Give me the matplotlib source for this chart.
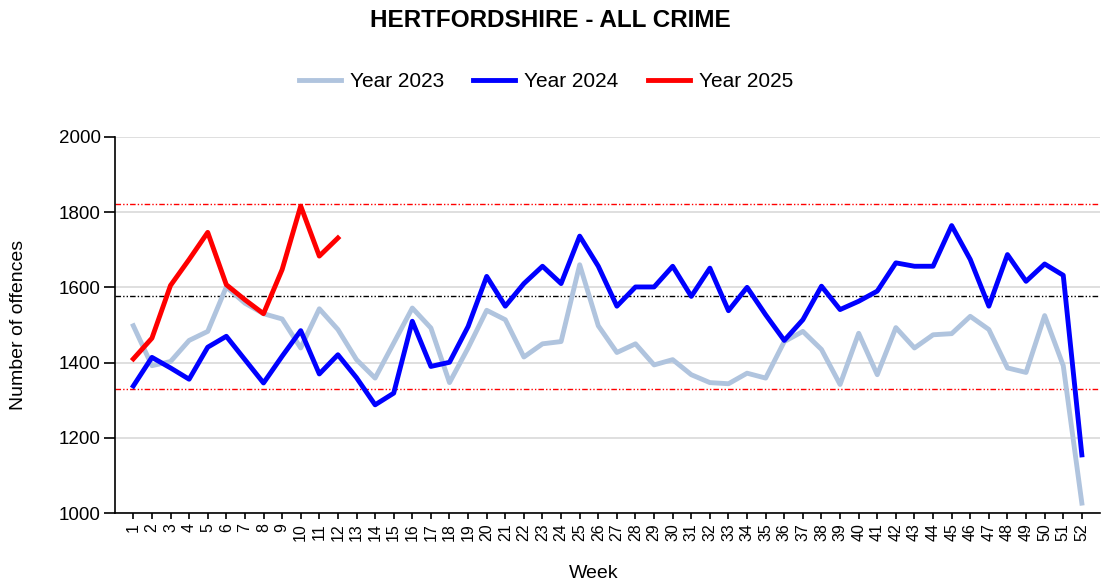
import matplotlib
matplotlib.use("Agg")
import matplotlib.pyplot as plt
import numpy as np

plt.rcParams['font.family'] = ['Liberation Sans', 'DejaVu Sans']

weeks = list(range(1, 53))
year_2023 = [1498, 1392, 1403, 1459, 1483, 1601, 1558, 1530, 1516, 1439, 1543, 1488, 1408,
             1359, 1452, 1545, 1492, 1347, 1439, 1539, 1514, 1415, 1450, 1456, 1660, 1498,
             1427, 1450, 1394, 1408, 1368, 1347, 1344, 1372, 1359, 1456, 1483, 1435, 1342,
             1478, 1368, 1493, 1439, 1474, 1477, 1523, 1488, 1386, 1374, 1525, 1392, 1027]
year_2024 = [1338, 1414, 1386, 1356, 1441, 1470, 1408, 1346, 1417, 1485, 1370, 1421, 1360,
             1288, 1319, 1510, 1390, 1401, 1496, 1629, 1550, 1610, 1656, 1610, 1736, 1656,
             1550, 1601, 1601, 1656, 1576, 1651, 1538, 1600, 1527, 1459, 1514, 1603, 1541,
             1563, 1590, 1665, 1656, 1656, 1764, 1674, 1550, 1687, 1616, 1662, 1632, 1155]
year_2025 = [1410, 1465, 1605, 1674, 1746, 1607, 1567, 1530, 1647, 1816, 1683, 1731]

upper_limit = 1820
mean_line = 1576
lower_limit = 1331

fig = plt.figure(figsize=(11.01, 5.85), dpi=100)
ax = fig.add_axes([0.1042, 0.1226, 0.8953, 0.6437])

lw = 3.5
ax.plot(weeks, year_2023, color='#B0C4DE', lw=lw, label='Year 2023')
ax.plot(weeks, year_2024, color='#0000FF', lw=lw, label='Year 2024')
ax.plot(weeks[:len(year_2025)], year_2025, color='#FF0000', lw=lw, label='Year 2025')

dash = (0, (4, 1.5, 1, 1.5, 1, 1.5))
ax.axhline(upper_limit, color='#FF0000', lw=1.0, ls=dash, zorder=1)
ax.axhline(mean_line, color='black', lw=1.0, ls=dash, zorder=1)
ax.axhline(lower_limit, color='#FF0000', lw=1.0, ls=dash, zorder=1)

ax.set_xlim(0, 53)
ax.set_ylim(1000, 2000)
ax.set_yticks(np.arange(1000, 2001, 200))
ax.set_xticks(weeks)
ax.set_xticklabels([str(w) for w in weeks], rotation=90, fontsize=11.5)
ax.tick_params(axis='y', labelsize=13.5, length=8, width=1.2, colors='black', pad=2)
ax.tick_params(axis='x', length=4, width=1.2, pad=3)
ax.grid(axis='y', color='#D9D9D9', lw=1.2, zorder=0)
ax.set_axisbelow(True)
for s in ['top', 'right']:
    ax.spines[s].set_visible(False)
ax.spines['left'].set_linewidth(1.2)
ax.spines['bottom'].set_linewidth(1.2)

ax.set_ylabel('Number of offences', fontsize=14)
ax.yaxis.set_label_coords(-0.098, 0.5)
ax.set_xlabel('Week', fontsize=14)
ax.xaxis.set_label_coords(0.486, -0.16)
ax.xaxis.label.set_va('center')
ax.yaxis.label.set_va('center')

fig.text(0.5, 0.965, 'HERTFORDSHIRE - ALL CRIME', ha='center', va='center',
         fontsize=17.5, fontweight='bold')
fig.legend(*ax.get_legend_handles_labels(), loc='center', bbox_to_anchor=(0.496, 0.86),
           ncol=3, frameon=False, fontsize=15, handlelength=2.0, handletextpad=0.45,
           columnspacing=1.4)

fig.savefig('out.png', dpi=100)
